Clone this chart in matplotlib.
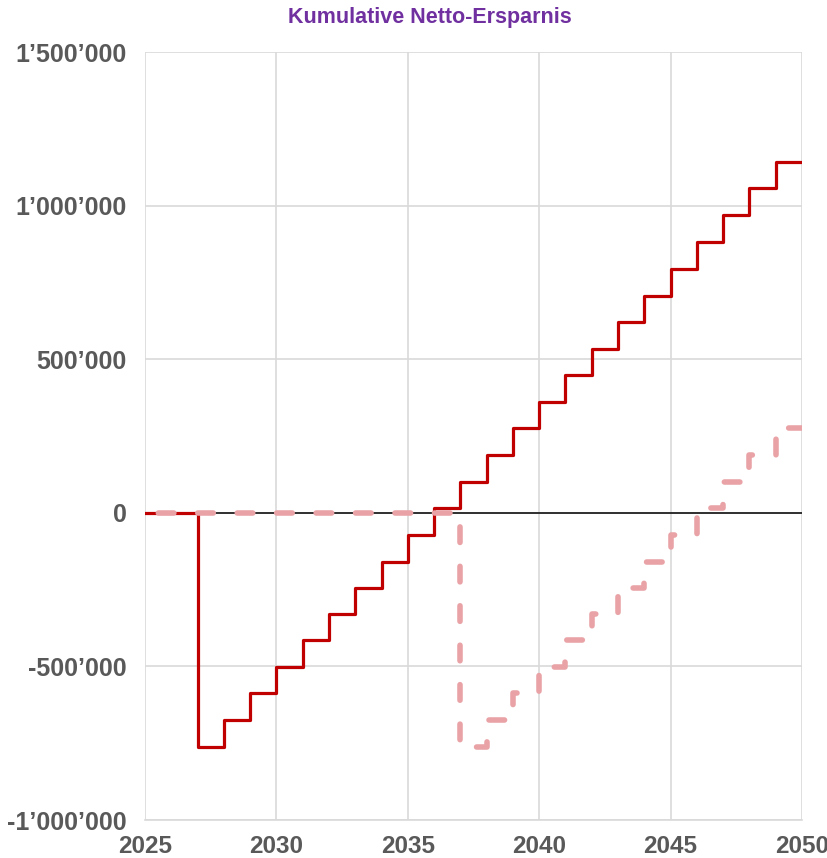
import numpy as np
import matplotlib.pyplot as plt
from matplotlib.ticker import FuncFormatter

years = np.arange(2025, 2051)

# kumulative Ersparnis, Wert gilt jeweils ab Jahresbeginn (Treppenkurve)
savings_early = [0, 0, -762000, -674000, -586000, -501000, -413000, -329000,
                 -244000, -160000, -72000, 16000, 101000, 189000, 277000,
                 361000, 449000, 534000, 622000, 706000, 794000, 882000,
                 970000, 1058000, 1143000, 1143000]
savings_late = [0, 0, 0, 0, 0, 0, 0, 0, 0, 0, 0, 0, -762000, -674000,
                -586000, -501000, -413000, -329000, -244000, -160000,
                -72000, 16000, 101000, 189000, 277000, 277000]

x_ticks = [2025, 2030, 2035, 2040, 2045, 2050]
y_ticks = [-1000000, -500000, 0, 500000, 1000000, 1500000]

plt.rcParams['font.family'] = ['Liberation Sans', 'DejaVu Sans']

fig = plt.figure(figsize=(8.28, 8.58), dpi=100)
ax = fig.add_axes([145/828, 1 - 820/858, 657/828, 768/858])

ax.plot(years, savings_early, drawstyle='steps-post', color='#C00000',
        lw=2.3, zorder=3)
ax.plot(years, savings_late, drawstyle='steps-post', color='#E9A2A6',
        lw=4, ls=(4.7, (2.8, 4.3)), dash_capstyle='round', zorder=4)
ax.axhline(0, color='black', lw=1.1, zorder=2)

ax.set_xlim(2025, 2050)
ax.set_ylim(-1000000, 1500000)
ax.set_xticks(x_ticks)
ax.set_yticks(y_ticks)
ax.yaxis.set_major_formatter(FuncFormatter(lambda v, p: f"{int(v):,}".replace(",", "\u2019")))
ax.grid(True, color='#D9D9D9', lw=1.2, zorder=0)
for s in ['top', 'right', 'left']:
    ax.spines[s].set_visible(False)
ax.spines['bottom'].set_color('#D9D9D9')
ax.spines['bottom'].set_linewidth(1.2)
ax.tick_params(length=0, labelsize=17.5, labelcolor='#595959')
ax.tick_params(axis='y', labelsize=18, pad=13)
ax.tick_params(axis='x', pad=11)
for lab in ax.get_xticklabels() + ax.get_yticklabels():
    lab.set_fontweight('bold')

fig.text(430/828, 1 - 18/858, "Kumulative Netto-Ersparnis", ha='center', va='center',
         fontsize=15.5, fontweight='bold', color='#7030A0')

fig.savefig("out.png", dpi=100)
